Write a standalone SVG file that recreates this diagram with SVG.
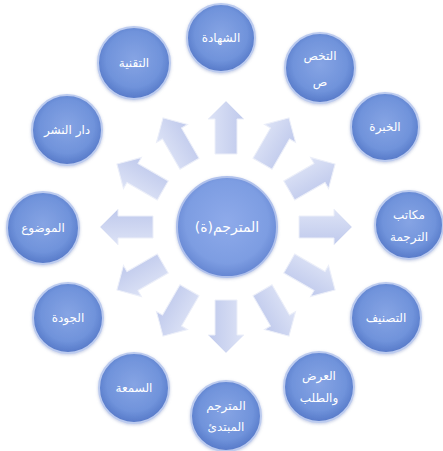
<svg xmlns="http://www.w3.org/2000/svg" xmlns:xlink="http://www.w3.org/1999/xlink" width="443" height="451" viewBox="0 0 443 451">
  <defs>
    <radialGradient id="gNode" cx="50%" cy="45%" r="55%">
      <stop offset="0%" stop-color="#86a4e4"/>
      <stop offset="70%" stop-color="#7093db"/>
      <stop offset="100%" stop-color="#5679c8"/>
    </radialGradient>
    <radialGradient id="gCenter" cx="50%" cy="45%" r="55%">
      <stop offset="0%" stop-color="#8eaaea"/>
      <stop offset="75%" stop-color="#7d9de2"/>
      <stop offset="100%" stop-color="#6586d2"/>
    </radialGradient>
    <linearGradient id="gArrow" x1="0" y1="0" x2="0" y2="1">
      <stop offset="0%" stop-color="#dde3f6"/>
      <stop offset="100%" stop-color="#bfc9ec"/>
    </linearGradient>
    <filter id="shadow" x="-20%" y="-20%" width="140%" height="140%">
      <feDropShadow dx="0" dy="1" stdDeviation="1.5" flood-color="#7083bb" flood-opacity="0.4"/>
    </filter>
    <path id="arrow" d="M73,-11 H108 V-18 L126,0 L108,18 V11 H73 Z"/>
  </defs>
  <style>
    .node { fill: url(#gNode); stroke: #bccbef; stroke-width: 2; filter: url(#shadow); }
    .center { fill: url(#gCenter); stroke: #b0c1ec; stroke-width: 2; filter: url(#shadow); }
    .arr { fill: url(#gArrow); stroke: #eceff9; stroke-width: 1; }
    text { font-family: "DejaVu Sans", "Noto Sans", sans-serif; fill: #ffffff; text-anchor: middle; font-size: 12px; }
    .big { font-size: 14px; }
  </style>
  <rect width="443" height="451" fill="#ffffff"/>

  <g id="connectors">
    <use xlink:href="#arrow" class="arr" transform="translate(226,227) rotate(-90)"/>
    <use xlink:href="#arrow" class="arr" transform="translate(226,227) rotate(-60)"/>
    <use xlink:href="#arrow" class="arr" transform="translate(226,227) rotate(-30)"/>
    <use xlink:href="#arrow" class="arr" transform="translate(226,227) rotate(0)"/>
    <use xlink:href="#arrow" class="arr" transform="translate(226,227) rotate(30)"/>
    <use xlink:href="#arrow" class="arr" transform="translate(226,227) rotate(60)"/>
    <use xlink:href="#arrow" class="arr" transform="translate(226,227) rotate(90)"/>
    <use xlink:href="#arrow" class="arr" transform="translate(226,227) rotate(120)"/>
    <use xlink:href="#arrow" class="arr" transform="translate(226,227) rotate(150)"/>
    <use xlink:href="#arrow" class="arr" transform="translate(226,227) rotate(180)"/>
    <use xlink:href="#arrow" class="arr" transform="translate(226,227) rotate(210)"/>
    <use xlink:href="#arrow" class="arr" transform="translate(226,227) rotate(240)"/>
  </g>

  <g id="center">
    <circle class="center" cx="227" cy="227" r="50"/>
    <text class="big" x="227" y="232">المترجم(ة)</text>
  </g>

  <g id="n-shahada">
    <circle class="node" cx="221" cy="38" r="34"/>
    <text x="221" y="42">الشهادة</text>
  </g>
  <g id="n-takhassus">
    <circle class="node" cx="320" cy="68" r="35"/>
    <text x="320" y="60">التخص</text>
    <text x="320" y="86">ص</text>
  </g>
  <g id="n-khibra">
    <circle class="node" cx="385" cy="127" r="34"/>
    <text x="385" y="131">الخبرة</text>
  </g>
  <g id="n-makatib">
    <circle class="node" cx="409" cy="225" r="34"/>
    <text x="409" y="219">مكاتب</text>
    <text x="409" y="241">الترجمة</text>
  </g>
  <g id="n-tasnif">
    <circle class="node" cx="386" cy="318" r="35"/>
    <text x="386" y="322">التصنيف</text>
  </g>
  <g id="n-ard">
    <circle class="node" cx="319" cy="387" r="35"/>
    <text x="319" y="380">العرض</text>
    <text x="319" y="402">والطلب</text>
  </g>
  <g id="n-mubtadi">
    <circle class="node" cx="226" cy="416" r="35"/>
    <text x="226" y="410">المترجم</text>
    <text x="226" y="431">المبتدئ</text>
  </g>
  <g id="n-sumaa">
    <circle class="node" cx="134" cy="388" r="35"/>
    <text x="134" y="392">السمعة</text>
  </g>
  <g id="n-jawda">
    <circle class="node" cx="68" cy="318" r="35"/>
    <text x="68" y="322">الجودة</text>
  </g>
  <g id="n-mawdu">
    <circle class="node" cx="43" cy="228" r="36"/>
    <text x="43" y="232">الموضوع</text>
  </g>
  <g id="n-dar">
    <circle class="node" cx="67" cy="130" r="35"/>
    <text x="67" y="134">دار النشر</text>
  </g>
  <g id="n-taqniya">
    <circle class="node" cx="134" cy="63" r="36"/>
    <text x="134" y="67">التقنية</text>
  </g>
</svg>
